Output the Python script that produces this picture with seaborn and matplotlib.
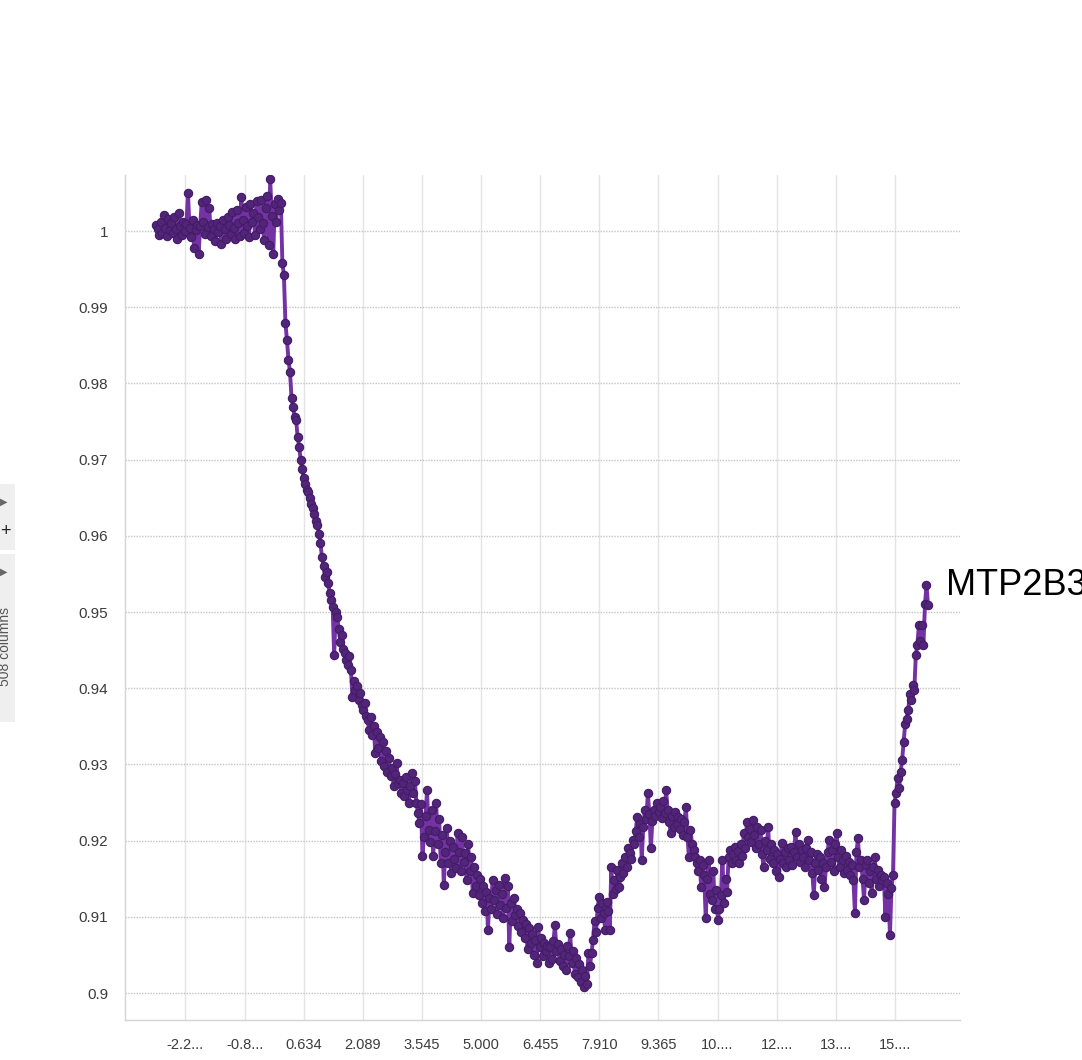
"""Recreate the MTP2B3 column profile line chart."""
import matplotlib

matplotlib.use("Agg")

import matplotlib.pyplot as plt  # noqa: E402
import matplotlib.patches as mpatches  # noqa: E402
import numpy as np  # noqa: E402
import seaborn as sns  # noqa: E402

# values, left to right, grouped by stretch of the curve
plateau = [
    1.0008, 1.0002, 0.9995, 1.0012, 0.9998, 1.0021, 1.0004, 0.9993, 1.0016, 1.0001,
    1.0010, 0.9997, 1.0018, 1.0003, 0.9990, 1.0024, 1.0006, 0.9995, 1.0012, 1.0000,
    1.0009, 1.0050, 1.0004, 0.9992, 1.0015, 0.9978, 1.0001, 1.0008, 0.9970, 1.0006,
    1.0038, 1.0012, 0.9996, 1.0041, 1.0005, 1.0030, 0.9994, 1.0009, 1.0002, 0.9987,
    1.0011, 0.9999, 1.0006, 0.9983, 1.0014, 1.0003, 0.9990, 1.0019, 1.0008, 0.9996,
    1.0025, 1.0004, 0.9989, 1.0028, 1.0010, 0.9993, 1.0044, 1.0015, 0.9998, 1.0031,
    1.0007, 0.9992, 1.0036, 1.0012, 1.0024, 0.9995, 1.0039, 1.0018, 1.0003, 1.0041,
    1.0010, 0.9988, 1.0030, 1.0046, 0.9981, 1.0068, 1.0020, 0.9970, 1.0035, 1.0012,
    1.0042, 1.0028, 1.0037,
]
cliff = [0.9958, 0.9942, 0.9879, 0.9857, 0.9831, 0.9815, 0.9781, 0.9769, 0.9756, 0.9752, 0.9730]
decline = [
    0.9717, 0.9700, 0.9688, 0.9676, 0.9668, 0.9660, 0.9657, 0.9650, 0.9642, 0.9636,
    0.9628, 0.9620, 0.9614, 0.9603, 0.9590, 0.9572, 0.9560, 0.9546, 0.9552, 0.9538,
    0.9525, 0.9516, 0.9507, 0.9443, 0.9500, 0.9493, 0.9478, 0.9461, 0.9470, 0.9452,
    0.9446, 0.9437, 0.9430, 0.9442, 0.9424, 0.9388, 0.9410, 0.9398, 0.9403, 0.9385,
    0.9394, 0.9378, 0.9371, 0.9380, 0.9364, 0.9358, 0.9345, 0.9362, 0.9338, 0.9350,
    0.9315, 0.9342, 0.9322, 0.9336, 0.9305, 0.9330, 0.9298, 0.9318, 0.9290, 0.9308,
    0.9285, 0.9295, 0.9272, 0.9288, 0.9302, 0.9276,
]
trough = [
    0.9280, 0.9262, 0.9275, 0.9258, 0.9284, 0.9266, 0.9250, 0.9272, 0.9289, 0.9262,
    0.9278, 0.9250, 0.9236, 0.9223, 0.9248, 0.9180, 0.9205, 0.9232, 0.9266, 0.9214,
    0.9198, 0.9240, 0.9180, 0.9212, 0.9250, 0.9196, 0.9228, 0.9170, 0.9208, 0.9142,
    0.9185, 0.9217, 0.9170, 0.9200, 0.9158, 0.9192, 0.9176, 0.9164, 0.9210, 0.9185,
    0.9160, 0.9205, 0.9172, 0.9184, 0.9148, 0.9195, 0.9160, 0.9178, 0.9131, 0.9165,
    0.9140, 0.9155, 0.9128, 0.9150, 0.9118, 0.9140, 0.9108, 0.9132, 0.9083, 0.9125,
    0.9110, 0.9148, 0.9122, 0.9135, 0.9104, 0.9142, 0.9115, 0.9130, 0.9098, 0.9151,
    0.9112, 0.9140, 0.9060, 0.9118, 0.9095, 0.9125, 0.9102, 0.9110, 0.9088, 0.9105,
    0.9080, 0.9096, 0.9072, 0.9090, 0.9058, 0.9085, 0.9066, 0.9078, 0.9050, 0.9070,
    0.9039, 0.9087, 0.9060, 0.9072, 0.9048, 0.9066, 0.9055, 0.9062, 0.9040, 0.9060,
    0.9045, 0.9068, 0.9089, 0.9055, 0.9064, 0.9042, 0.9058, 0.9036, 0.9050, 0.9030,
    0.9062, 0.9048, 0.9079, 0.9040, 0.9055, 0.9025, 0.9046, 0.9021, 0.9038, 0.9015,
    0.9030, 0.9008, 0.9022, 0.9012, 0.9052,
]
hump_rise = [
    0.9035, 0.9052, 0.9070, 0.9095, 0.9080, 0.9112, 0.9126, 0.9098, 0.9118, 0.9105,
    0.9083, 0.9120, 0.9108, 0.9083, 0.9165, 0.9130, 0.9148, 0.9136, 0.9161, 0.9139,
    0.9152, 0.9170, 0.9158, 0.9178, 0.9165, 0.9190, 0.9184, 0.9176, 0.9201, 0.9196,
    0.9212, 0.9231, 0.9205, 0.9222, 0.9175, 0.9218, 0.9240, 0.9228, 0.9262, 0.9235,
    0.9190, 0.9226, 0.9240, 0.9232, 0.9249, 0.9238,
]
hump_fall = [
    0.9244, 0.9230, 0.9252, 0.9236, 0.9266, 0.9240, 0.9225, 0.9210, 0.9232, 0.9218,
    0.9238, 0.9222, 0.9231, 0.9215, 0.9228, 0.9208, 0.9224, 0.9244, 0.9205, 0.9178,
    0.9214, 0.9196, 0.9188, 0.9178, 0.9170, 0.9160, 0.9175, 0.9139, 0.9168, 0.9155,
    0.9098, 0.9150, 0.9175, 0.9130, 0.9122, 0.9160, 0.9110, 0.9135, 0.9096,
]
shoulder = [
    0.9110, 0.9128, 0.9175, 0.9118, 0.9150, 0.9132, 0.9178, 0.9188, 0.9170, 0.9182,
    0.9192, 0.9175, 0.9186, 0.9170, 0.9195, 0.9180, 0.9210, 0.9190, 0.9224, 0.9205,
    0.9215, 0.9198, 0.9227, 0.9208, 0.9190, 0.9218,
]
flat_tail = [
    0.9195, 0.9214, 0.9182, 0.9165, 0.9200, 0.9188, 0.9218, 0.9176, 0.9195, 0.9170,
    0.9188, 0.9160, 0.9182, 0.9152, 0.9176, 0.9197, 0.9170, 0.9185, 0.9165, 0.9190,
    0.9175, 0.9192, 0.9168, 0.9185, 0.9211, 0.9178, 0.9196, 0.9172, 0.9188, 0.9178,
    0.9165, 0.9190, 0.9201, 0.9175, 0.9185, 0.9158, 0.9129, 0.9170, 0.9182, 0.9162,
    0.9178, 0.9150, 0.9170, 0.9139, 0.9165, 0.9185, 0.9201, 0.9172, 0.9188, 0.9160,
    0.9195, 0.9210, 0.9178, 0.9165, 0.9188, 0.9175, 0.9158, 0.9180, 0.9162, 0.9172,
    0.9155, 0.9168, 0.9148, 0.9105, 0.9185, 0.9203, 0.9165, 0.9175, 0.9150, 0.9122,
    0.9168, 0.9175, 0.9145, 0.9160, 0.9131, 0.9165, 0.9178, 0.9150, 0.9162, 0.9140,
    0.9155, 0.9148, 0.9152, 0.9100, 0.9145, 0.9130, 0.9076, 0.9138, 0.9155,
]
final_rise = [
    0.9250, 0.9262, 0.9282, 0.9269, 0.9290, 0.9306, 0.9330, 0.9353, 0.9360, 0.9372,
    0.9392, 0.9385, 0.9404, 0.9398, 0.9444, 0.9457, 0.9483, 0.9462, 0.9483, 0.9457,
    0.9510, 0.9535, 0.9509,
]

values = plateau + cliff + decline + trough + hump_rise + hump_fall + shoulder + flat_tail + final_rise
# 508 evenly spaced columns from -3 to 16
columns = np.linspace(-3.0, 16.0, len(values))

x_ticks = [-2.276, -0.821, 0.634, 2.089, 3.545, 5.000, 6.455, 7.910, 9.365, 10.820, 12.276, 13.731, 15.186]
x_labels = ["-2.2...", "-0.8...", "0.634", "2.089", "3.545", "5.000", "6.455",
            "7.910", "9.365", "10....", "12....", "13....", "15...."]
y_ticks = [0.90, 0.91, 0.92, 0.93, 0.94, 0.95, 0.96, 0.97, 0.98, 0.99, 1.00]
y_labels = ["0.9", "0.91", "0.92", "0.93", "0.94", "0.95", "0.96", "0.97", "0.98", "0.99", "1"]

sns.set_style("white")
plt.rcParams["font.family"] = ["Liberation Sans", "DejaVu Sans"]

W, H = 1082, 1060
fig = plt.figure(figsize=(W / 100, H / 100), dpi=100)
ax = fig.add_axes([125 / W, 1 - 1020 / H, (960 - 125) / W, (1020 - 175) / H])

sns.lineplot(x=columns, y=values, ax=ax, color="#7432a4", linewidth=2.8,
             marker="o", markersize=6, markerfacecolor="#52247a",
             markeredgecolor="#421c64", markeredgewidth=0.8, sort=False)

ax.set_xlim(-3.763, 16.787)
ax.set_ylim(0.89646, 1.00735)
ax.set_xticks(x_ticks)
ax.set_xticklabels(x_labels)
ax.set_yticks(y_ticks)
ax.set_yticklabels(y_labels)
ax.set_xlabel("")
ax.set_ylabel("")

ax.yaxis.grid(True, linestyle=(0, (1, 1)), color="#c4c4c4", linewidth=1)
ax.xaxis.grid(True, linestyle="-", color="#e4e4e4", linewidth=1)
ax.set_axisbelow(True)
for side in ("top", "right"):
    ax.spines[side].set_visible(False)
for side in ("left", "bottom"):
    ax.spines[side].set_color("#d4d4d4")
    ax.spines[side].set_linewidth(1)
ax.tick_params(axis="both", length=7, width=1, color="#d0d0d0", labelcolor="#3c3c3c")
ax.tick_params(axis="y", labelsize=11, pad=5)
ax.tick_params(axis="x", labelsize=10.5, pad=6)

# series label at the right edge (cut off by the figure edge, as in the source)
fig.text(946 / W, 1 - 595 / H, "MTP2B3", fontsize=26, color="black", ha="left", va="baseline")

# collapsed side panel on the left
fig.patches.append(mpatches.Rectangle((0, 1 - 550 / H), 15 / W, 66 / H, transform=fig.transFigure,
                                      facecolor="#efefef", edgecolor="none"))
fig.patches.append(mpatches.Rectangle((0, 1 - 722 / H), 15 / W, 168 / H, transform=fig.transFigure,
                                      facecolor="#efefef", edgecolor="none"))
fig.text(4 / W, 1 - 502 / H, "\u25b6", fontsize=7, color="#666666", ha="center", va="center",
         family=["DejaVu Sans"])
fig.text(5 / W, 1 - 532 / H, "+", fontsize=13, color="#222222", ha="center", va="center")
fig.text(4 / W, 1 - 572 / H, "\u25b6", fontsize=7, color="#666666", ha="center", va="center",
         family=["DejaVu Sans"])
fig.text(5 / W, 1 - 647 / H, "508 columns", fontsize=10, color="#555555", rotation=90,
         ha="center", va="center")

fig.savefig("out.png", dpi=100)
plt.close(fig)
